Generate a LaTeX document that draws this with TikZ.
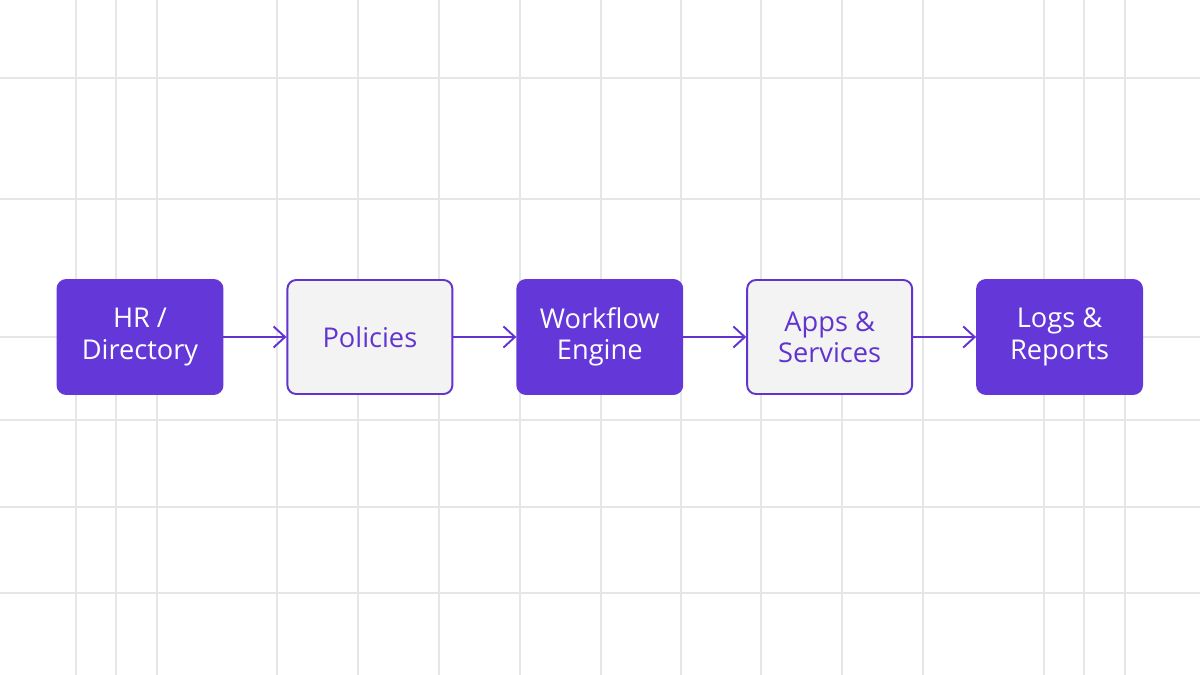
\documentclass[tikz,border=0pt]{standalone}
\usepackage{fontspec}
\setmainfont{Open Sans}
\usetikzlibrary{positioning,arrows.meta}

\definecolor{flowpurple}{HTML}{6437D8}
\definecolor{flowedge}{HTML}{6234CF}
\definecolor{flowpale}{HTML}{F4F3F3}
\definecolor{gridgray}{HTML}{E6E6E8}

\tikzset{
  gridline/.style={gridgray, line width=0.85pt},
  box/.style={rounded corners=5pt, minimum width=3.3cm, minimum height=2.28cm,
    align=center, font=\fontsize{15.5}{17.8}\selectfont, line width=1.1pt, inner sep=0pt},
  dark/.style={box, fill=flowpurple, draw=flowpurple, text=white},
  pale/.style={box, fill=flowpale, draw=flowedge, text=flowedge},
  flow/.style={flowedge, line width=1.1pt, -{Straight Barb[length=6.5pt, width=12pt]}}
}

\begin{document}
\begin{tikzpicture}[x=0.02cm, y=-0.02cm]
\useasboundingbox[fill=white] (0,0) rectangle (1200,675);
\foreach \x in {76,116,157,277,358,439,520,601,681,761,842,923,1044,1084,1125}
  \draw[gridline] (\x,0) -- (\x,675);
\foreach \y in {78,199,337,420,507,593}
  \draw[gridline] (0,\y) -- (1200,\y);

\node[dark] (hr) at (140,337) {HR /\\Directory};
\node[pale, right=1.26cm of hr] (pol) {Policies};
\node[dark, right=1.26cm of pol] (wf) {Workflow\\Engine};
\node[pale, right=1.26cm of wf] (apps) {Apps \&\\Services};
\node[dark, right=1.26cm of apps] (logs) {Logs \&\\Reports};

\draw[flow] (hr) -- (pol);
\draw[flow] (pol) -- (wf);
\draw[flow] (wf) -- (apps);
\draw[flow] (apps) -- (logs);
\end{tikzpicture}
\end{document}
